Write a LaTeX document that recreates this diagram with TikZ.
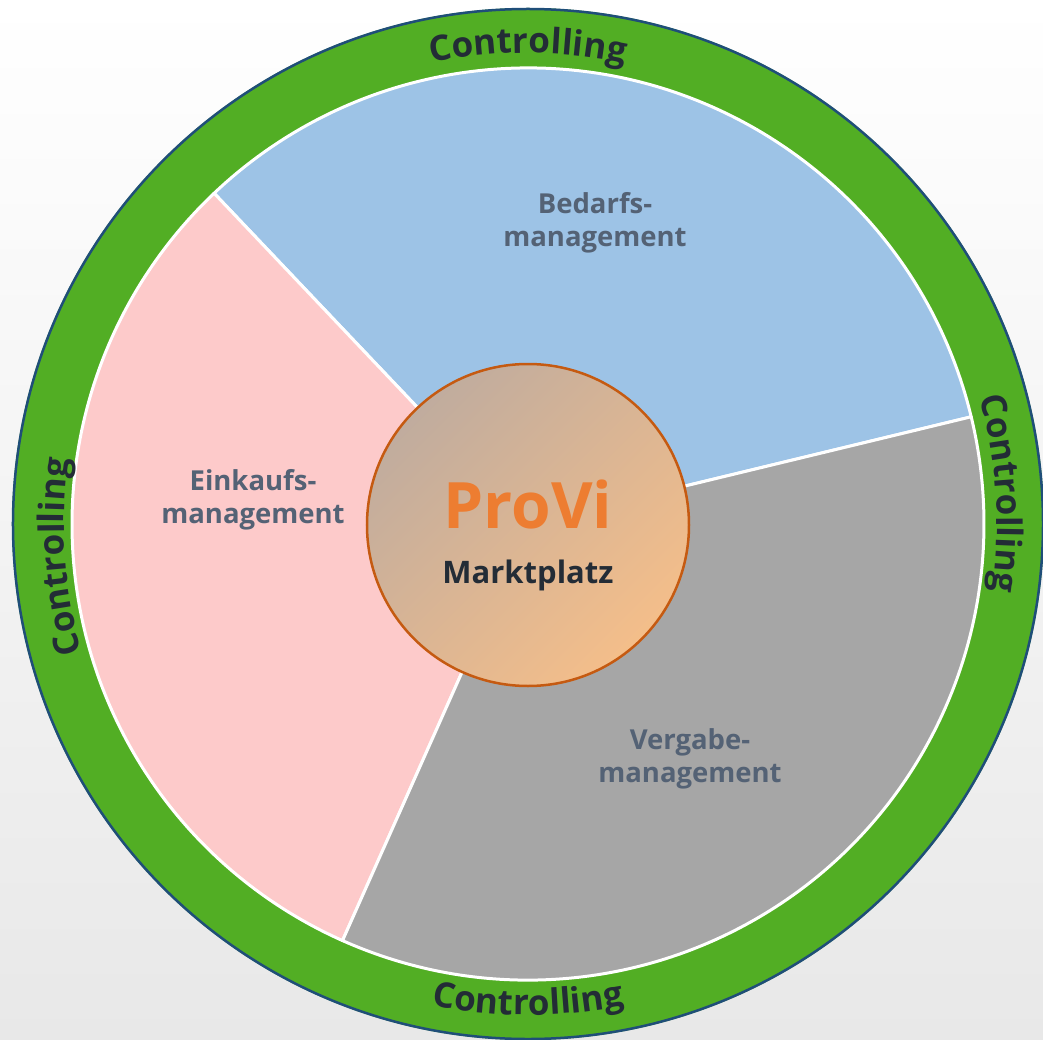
\documentclass[tikz,border=0pt]{standalone}
\usepackage{fontspec}
\setmainfont{Open Sans}
\usetikzlibrary{decorations.text}
\definecolor{ringgreen}{HTML}{52AE24}
\definecolor{ringline}{HTML}{1F4E79}
\definecolor{segblue}{HTML}{9DC3E6}
\definecolor{segpink}{HTML}{FDCACA}
\definecolor{seggray}{HTML}{A6A6A6}
\definecolor{labelc}{HTML}{546275}
\definecolor{darktext}{HTML}{232C36}
\definecolor{provi}{HTML}{ED7D31}
\definecolor{hubA}{HTML}{C0AC9E}
\definecolor{hubB}{HTML}{DFA67A}
\definecolor{hubC}{HTML}{F4BE8A}
\definecolor{hubline}{HTML}{C55A11}
\newcommand\ringfont{\fontsize{35}{35}\selectfont\bfseries}
\begin{document}
\begin{tikzpicture}[x=1pt,y=1pt,
  seg/.style={draw=white, line width=3pt, line join=round},
  seglabel/.style={font=\fontsize{27.5}{33}\selectfont\bfseries, text=labelc, align=center},
  ringtext/.style={decorate, decoration={text along path, text={|\ringfont|#1}, text align=center, text color=darktext}}
  ]
\useasboundingbox (-528,-515) rectangle (515,524);
\shade[top color=white, middle color=white, bottom color=black!9] (-528,-515) rectangle (515,524);
% outer ring
\fill[ringgreen] (0,0) circle (516);
\draw[ringline, line width=2.5pt] (0,0) circle (515);
% segments
\filldraw[seg, fill=segblue] (0,0) -- (13.6:456) arc (13.6:133.5:456) -- cycle;
\filldraw[seg, fill=segpink] (0,0) -- (133.5:456) arc (133.5:246:456) -- cycle;
\filldraw[seg, fill=seggray] (0,0) -- (246:456) arc (246:373.6:456) -- cycle;
% ring texts
\path[ringtext=Controlling] (112:471) arc (112:68:471);
\path[ringtext=Controlling] (25.7:469) arc (25.7:-18.3:469);
\path[ringtext=Controlling] (248:491) arc (248:292:491);
\path[ringtext=Controlling] (206:464) arc (206:162:464);
% hub
\node[circle, minimum size=322pt, inner sep=0pt, draw=hubline, line width=2.5pt,
      top color=hubA, middle color=hubB, bottom color=hubC, shading angle=45] (hub) at (0,-1) {};
\node[font=\fontsize{64}{64}\selectfont\bfseries, text=provi, anchor=base] (provi) at (0,-4) {ProVi};
\node[font=\fontsize{31}{31}\selectfont\bfseries, text=darktext, anchor=base] (markt) at (0,-59) {Marktplatz};
% segment labels
\node[seglabel] (bedarf) at (67,301) {Bedarfs-\\management};
\node[seglabel] (einkauf) at (-275,24) {Einkaufs-\\management};
\node[seglabel] (vergabe) at (162,-235) {Vergabe-\\management};
\end{tikzpicture}
\end{document}
